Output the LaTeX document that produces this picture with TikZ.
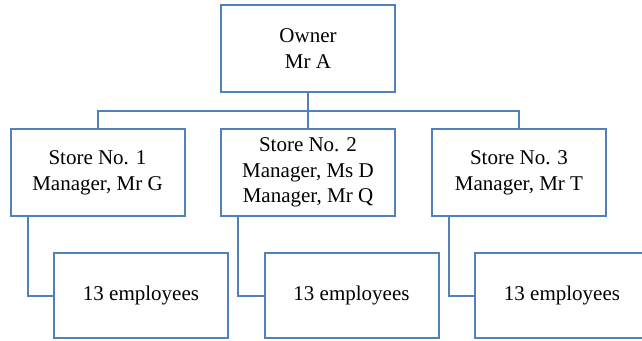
\documentclass[tikz,border=0pt]{standalone}
\usepackage{fontspec}
\setmainfont{Liberation Serif}
\definecolor{orgblue}{HTML}{4F81BD}

\begin{document}
\begin{tikzpicture}[x=1pt, y=-1pt,
    box/.style={draw=orgblue, line width=2pt, minimum width=174pt, minimum height=87pt,
        inner sep=0pt, align=center, font=\fontsize{21}{25.7}\selectfont},
    link/.style={draw=orgblue, line width=2pt}]
\useasboundingbox (0,0) rectangle (642,340);

\node[box] (owner) at (308,48.5) {Owner\\Mr A};
\node[box] (store1) at (97.5,172.5) {Store No. 1\\Manager, Mr G};
\node[box] (store2) at (308,172.5) {Store No. 2\\Manager, Ms D\\Manager, Mr Q};
\node[box] (store3) at (519,172.5) {Store No. 3\\Manager, Mr T};

\foreach \i/\x in {1/141, 2/351.5, 3/562}
{
    \node[box, minimum height=85pt] (staff\i) at (\x,295.5) {13 employees};
    \draw[link] ([xshift=18pt]store\i.south west) |- (staff\i.west);
}

\coordinate (bus) at (308,110.5);
\draw[link] (owner.south) -- (bus) -- (store2.north);
\draw[link] (store1.north) |- (bus) -| (store3.north);
\end{tikzpicture}
\end{document}
